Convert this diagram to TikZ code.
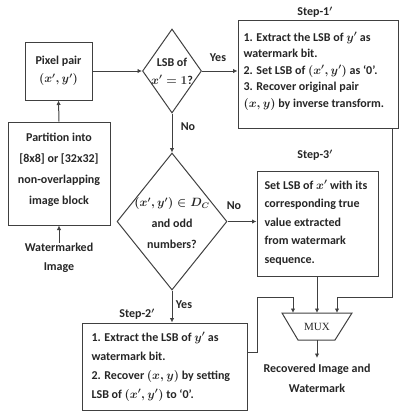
\documentclass[tikz,border=0pt]{standalone}
\usepackage{fontspec}
\setmainfont{Carlito}
\newfontfamily\muxfont{Liberation Serif}
\usetikzlibrary{shapes.geometric,arrows.meta}
\begin{document}
\begin{tikzpicture}[x=1pt,y=-1pt,
  line width=1pt,
  lc/.style={draw=black!75},
  box/.style={lc, rectangle, inner sep=0pt},
  dia/.style={lc, diamond, inner sep=0pt},
  txt/.style={font=\bfseries\boldmath\fontsize{12}{16.5}\selectfont, text=black!85, inner sep=0pt, align=center},
  ltxt/.style={txt, align=left, anchor=north west},
  arr/.style={lc, -{Latex[length=4.5pt,width=4.5pt]}},
  con/.style={lc}]
\useasboundingbox (0,0) rectangle (399,413);

% boxes
\node[box, minimum width=67pt, minimum height=58pt] (pix) at (58.5,71) {};
\node[txt, font=\bfseries\boldmath\fontsize{12}{18}\selectfont] (pixt) at (58.5,71) {Pixel pair\\$(x',y')$};

\node[box, minimum width=102pt, minimum height=103pt] (part) at (59,173.5) {};
\node[txt, font=\bfseries\boldmath\fontsize{12}{21}\selectfont] (partt) at (59,170) {Partition into\\{[8x8]} or [32x32]\\non-overlapping\\image block};

\node[txt, font=\bfseries\boldmath\fontsize{12}{19}\selectfont] (wm) at (59,258) {Watermarked\\Image};

\node[dia, minimum width=59pt, minimum height=84pt] (d1) at (172,71) {};
\node[txt, font=\bfseries\boldmath\fontsize{12}{18}\selectfont] (d1t) at (172,71) {LSB of\\$x'=1$?};

\node[dia, minimum width=110pt, minimum height=137pt] (d2) at (172,221.5) {};
\node[txt, font=\bfseries\boldmath\fontsize{12}{21}\selectfont] (d2t) at (172,223) {$(x',y')\in D_C$\\and odd\\numbers?};

\node[box, minimum width=160pt, minimum height=108pt] (s1) at (318,74) {};
\node[txt] (s1l) at (315,12) {Step-1$'$};
\node[ltxt] (s1t) at (243,32) {1. Extract the LSB of $y'$ as\\watermark bit.\\2. Set LSB of $(x',y')$ as `0'.\\3. Recover original pair\\$(x,y)$ by inverse transform.};

\node[box, minimum width=121pt, minimum height=105pt] (s3) at (317.5,223.5) {};
\node[txt] (s3l) at (315,155) {Step-3$'$};
\node[ltxt, font=\bfseries\boldmath\fontsize{12}{18.5}\selectfont] (s3t) at (264,180) {Set LSB of $x'$ with its\\corresponding true\\value extracted\\from watermark\\sequence.};

\node[box, minimum width=165pt, minimum height=87pt] (s2) at (164.5,366.5) {};
\node[txt] (s2l) at (137,314) {Step-2$'$};
\node[ltxt, font=\bfseries\boldmath\fontsize{12}{19}\selectfont] (s2t) at (91,332) {1. Extract the LSB of $y'$ as\\watermark bit.\\2. Recover $(x,y)$ by setting\\LSB of $(x',y')$ to `0'.};

% MUX
\coordinate (m1) at (282,313);
\coordinate (m2) at (352,313);
\coordinate (m3) at (335,340);
\coordinate (m4) at (298,340);
\draw[lc] (m1) -- (m2) -- (m3) -- (m4) -- cycle;
\node[inner sep=0pt, font=\muxfont\fontsize{11}{12}\selectfont, text=black!85] (mux) at (317,327) {MUX};
\coordinate (muxin1) at (293,313);
\coordinate (muxin2) at (317,313);
\coordinate (muxin3) at (337,313);
\coordinate (muxout) at (317,340);

\node[txt, font=\bfseries\boldmath\fontsize{12}{20}\selectfont] (rec) at (317,378) {Recovered Image and\\Watermark};

% labels
\node[txt] (yes1) at (218,58) {Yes};
\node[txt] (no1) at (188,127) {No};
\node[txt] (no2) at (234,206) {No};
\node[txt] (yes2) at (184,305) {Yes};

% connectors
\draw[arr] (part.north) -- (pix.south);
\draw[arr] (wm.north) -- (part.south);
\draw[arr] (pix.east) -- (d1.west);
\draw[arr] (d1.east) -- (d1.east -| s1.west);
\draw[arr] (d1.south) -- (d2.north);
\draw[arr] (d2.east) -- (d2.east -| s3.west);
\draw[arr] (d2.south) -- (d2.south |- s2.north);
\coordinate (s2out) at (247,352);
\coordinate (s1out) at (392,128);
\draw[arr] (s2out) -- (257,352) -- (257,297) -- (muxin1 |- 0,297) -- (muxin1);
\draw[arr] (s3.south -| muxin2) -- (muxin2);
\draw[arr] (s1out) -- (392,297) -- (muxin3 |- 0,297) -- (muxin3);
\draw[arr] (muxout) -- (317,358);
\end{tikzpicture}
\end{document}
